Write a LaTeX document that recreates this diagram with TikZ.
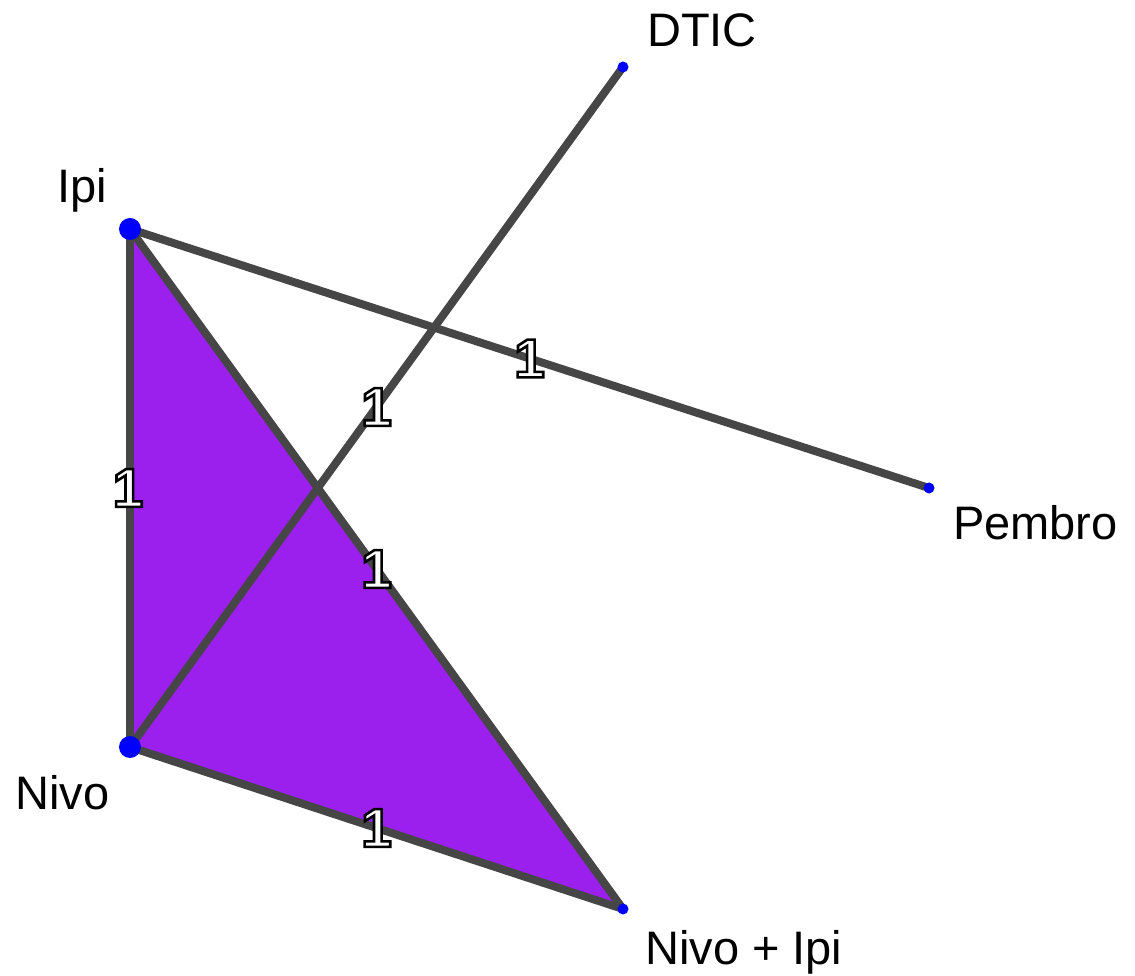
\documentclass[tikz,border=0pt]{standalone}
\usepackage{fontspec}
\setmainfont{Liberation Sans}
\definecolor{edgegray}{HTML}{464646}
\definecolor{triviolet}{HTML}{9B20EE}
\definecolor{dotblue}{HTML}{0000FF}
\tikzset{
  edge/.style={draw=edgegray, line width=8pt},
  bigdot/.style={circle, fill=dotblue, inner sep=0pt, minimum size=22pt},
  smalldot/.style={circle, fill=dotblue, inner sep=0pt, minimum size=11pt},
  name label/.style={anchor=base west, inner sep=0pt, font=\fontsize{47}{56}\selectfont},
  weight/.style={inner sep=0pt, text=white, font=\fontsize{55}{62}\selectfont\bfseries}
}
\newcommand{\wlabel}{\special{pdf:literal direct 0 0 0 RG 2 Tr 2.6 w}1\special{pdf:literal direct 0 Tr}}
\begin{document}
\begin{tikzpicture}[x=1pt,y=1pt]
\useasboundingbox (0,0) rectangle (1135,975);
% vertices
\coordinate (ipi) at (130,746);
\coordinate (nivo) at (130,228);
\coordinate (ni) at (623,66);
\coordinate (dtic) at (623,908);
\coordinate (pembro) at (929,487);
% triangle
\fill[triviolet] (ipi) -- (nivo) -- (ni) -- cycle;
% edges
\draw[edge] (ipi) -- (pembro) node[midway, weight] (w1) {\wlabel};
\draw[edge] (nivo) -- (dtic) node[midway, weight] (w2) {\wlabel};
\draw[edge] (ipi) -- (nivo) node[midway, weight, xshift=-2pt] (w3) {\wlabel};
\draw[edge] (ipi) -- (ni) node[midway, weight] (w4) {\wlabel};
\draw[edge] (nivo) -- (ni) node[midway, weight] (w5) {\wlabel};
% dots
\node[bigdot] (dipi) at (ipi) {};
\node[bigdot] (dnivo) at (nivo) {};
\node[smalldot] (dni) at (ni) {};
\node[smalldot] (ddtic) at (dtic) {};
\node[smalldot] (dpembro) at (pembro) {};
% names
\node[name label] (tipi) at (57,772) {Ipi};
\node[name label] (tnivo) at (15,166) {Nivo};
\node[name label] (tni) at (645,11) {Nivo + Ipi};
\node[name label] (tdtic) at (647,928) {DTIC};
\node[name label] (tpembro) at (953,435) {Pembro};
\end{tikzpicture}
\end{document}
